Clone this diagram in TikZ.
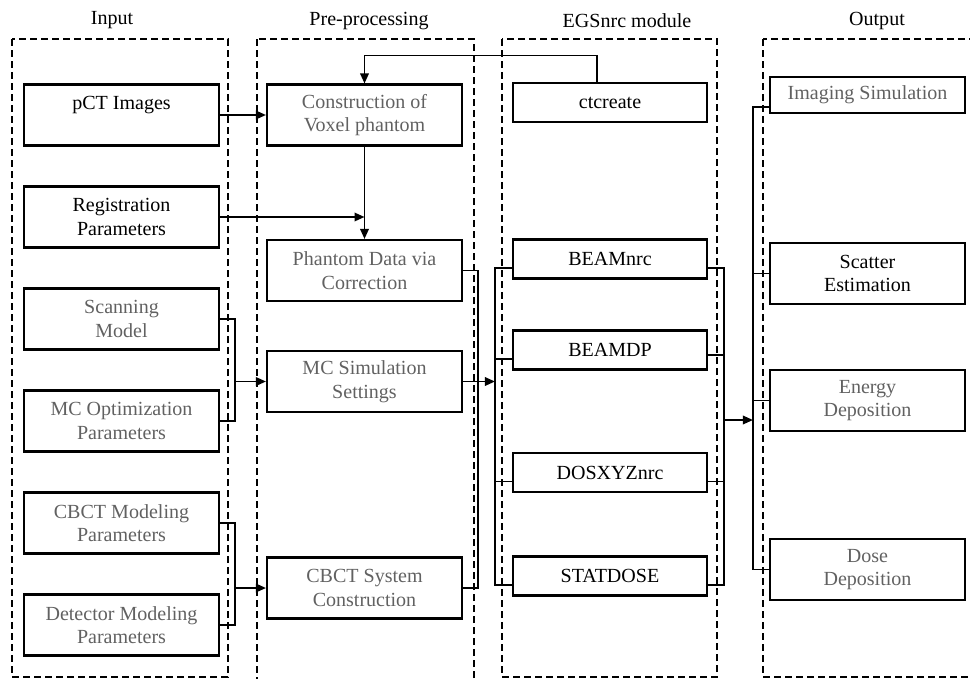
\documentclass[tikz,border=0pt]{standalone}
\usepackage{fontspec}
\setmainfont{Liberation Serif}
\usetikzlibrary{arrows.meta}
\definecolor{txtgrey}{gray}{0.38}

\begin{document}
\begin{tikzpicture}[
        font=\fontsize{11.4pt}{13.4pt}\selectfont,
        >={Triangle[length=0.2cm,width=0.17cm]},
        box/.style={draw, line width=1.2pt, minimum width=3.9cm, minimum height=1.22cm, align=center, inner sep=1pt},
        modbox/.style={box, minimum width=3.88cm, minimum height=0.78cm},
        grey/.style={text=txtgrey},
        frame/.style={line width=0.9pt, dash pattern=on 0.14cm off 0.08cm},
        link/.style={line width=1pt}
    ]
    \path[use as bounding box, clip] (0,0) rectangle (19.4,-13.56);

    \draw[frame] (0.24,-0.78) rectangle (4.56,-13.54);
    \draw[frame] (5.14,-0.78) rectangle (9.48,-13.8);
    \draw[frame] (10.04,-0.78) rectangle (14.34,-13.54);
    \draw[frame] (15.26,-0.78) rectangle (19.7,-13.54);

    \node (tin) at (2.24,-0.40) {Input};
    \node (tpre) at (7.38,-0.42) {Pre-processing};
    \node (tegs) at (12.54,-0.42) {EGSnrc module};
    \node (tout) at (17.54,-0.42) {Output};

    \node[box] (pct) at (2.43,-2.30) {pCT Images\\\mbox{}};
    \node[box, yshift=-2.04cm] (reg) at (pct) {Registration\\Parameters};
    \node[box, grey, yshift=-2.04cm] (scan) at (reg) {Scanning\\Model};
    \node[box, grey, yshift=-2.04cm] (mcopt) at (scan) {MC Optimization\\Parameters};
    \node[box, grey, yshift=-2.04cm] (cbctmod) at (mcopt) {CBCT Modeling\\Parameters};
    \node[box, grey, yshift=-2.04cm] (det) at (cbctmod) {Detector Modeling\\Parameters};

    \node[box, grey, xshift=4.86cm] (cons) at (pct) {Construction of\\Voxel phantom};
    \node[box, grey, yshift=-3.11cm] (phant) at (cons) {Phantom Data via\\Correction};
    \node[box, grey, yshift=-2.22cm] (mcsim) at (phant) {MC Simulation\\Settings};
    \node[box, grey, yshift=-4.13cm] (cbctsys) at (mcsim) {CBCT System\\Construction};

    \node[modbox] (ctc) at (12.2,-2.05) {ctcreate};
    \node[modbox, yshift=-3.13cm] (beamnrc) at (ctc) {BEAMnrc};
    \node[modbox, yshift=-1.82cm] (beamdp) at (beamnrc) {BEAMDP};
    \node[modbox, yshift=-2.45cm] (dosxyz) at (beamdp) {DOSXYZnrc};
    \node[modbox, yshift=-2.07cm] (statdose) at (dosxyz) {STATDOSE};

    \node[box, grey, minimum height=0.72cm] (imgsim) at (17.35,-1.90) {Imaging Simulation};
    \node[box] (scatter) at (17.35,-5.47) {Scatter\\Estimation};
    \node[box, grey] (energy) at (17.35,-8.01) {Energy\\Deposition};
    \node[box, grey] (dose) at (17.35,-11.39) {Dose\\Deposition};

    \draw[->, link] ([xshift=-0.26cm]ctc.north) |- ([yshift=0.56cm]cons.north) -- (cons.north);
    \draw[->, link] (pct.east) -- (cons.west);
    \draw[->, link] (cons.south) -- (phant.north);
    \draw[->, link] (reg.east) -- (reg.east -| cons.south);

    \draw[link] (scan.east) -- ++(0.3,0) coordinate (jin1) |- (mcopt.east);
    \draw[->, link] (jin1 |- mcsim.west) -- (mcsim.west);
    \draw[link] (cbctmod.east) -- ++(0.3,0) coordinate (jin2) |- (det.east);
    \draw[->, link] (jin2 |- cbctsys.west) -- (cbctsys.west);

    \draw[link] (phant.east) -- ++(0.3,0) coordinate (jpre) |- (cbctsys.east);
    \draw[link] ([yshift=-0.18cm]beamnrc.west) -- ++(-0.34,0) coordinate (jegs1) |- ([yshift=-0.18cm]statdose.west);
    \draw[link] ([yshift=-0.18cm]beamdp.west) -- ++(-0.34,0);
    \draw[link] ([yshift=-0.18cm]dosxyz.west) -- ++(-0.34,0);
    \draw[->, link] (mcsim.east) -- (mcsim.east -| jegs1);

    \draw[link] ([yshift=-0.18cm]beamnrc.east) -- ++(0.32,0) coordinate (jegs2) |- ([yshift=-0.18cm]statdose.east);
    \draw[link] ([yshift=-0.1cm]beamdp.east) -- ++(0.32,0);
    \draw[link] ([yshift=-0.18cm]dosxyz.east) -- ++(0.32,0);

    \draw[link] ([yshift=-0.24cm]imgsim.west) -- ++(-0.32,0) coordinate (jout) |- (dose.west);
    \draw[link] (scatter.west) -- ++(-0.32,0);
    \draw[link] (energy.west) -- ++(-0.32,0);
    \draw[->, link] ([yshift=-3.04cm]jegs2) -- ([yshift=-3.04cm]jegs2 -| jout);
\end{tikzpicture}
\end{document}
